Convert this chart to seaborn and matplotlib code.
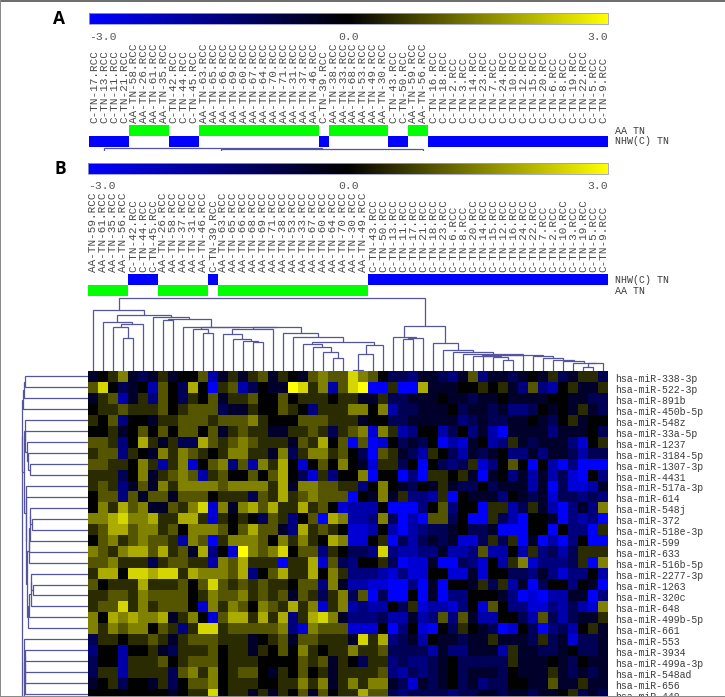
import numpy as np
import pandas as pd
import seaborn as sns
import matplotlib
matplotlib.use("Agg")
import matplotlib.pyplot as plt
from matplotlib.cm import ScalarMappable
from matplotlib.colors import LinearSegmentedColormap, ListedColormap, Normalize
from matplotlib.patches import Rectangle
from matplotlib.transforms import ScaledTranslation

W, H = 725, 697
MONO = "Liberation Mono"
LINE = "#55559f"

samples_a = ["C-TN-17", "C-TN-13", "C-TN-11", "C-TN-21", "AA-TN-58", "AA-TN-26", "AA-TN-61", "AA-TN-35",
             "C-TN-42", "C-TN-44", "C-TN-45", "AA-TN-63", "AA-TN-65", "AA-TN-66", "AA-TN-69", "AA-TN-60",
             "AA-TN-67", "AA-TN-64", "AA-TN-70", "AA-TN-71", "AA-TN-31", "AA-TN-37", "AA-TN-46", "C-TN-39",
             "AA-TN-38", "AA-TN-33", "AA-TN-68", "AA-TN-53", "AA-TN-49", "AA-TN-30", "C-TN-43", "C-TN-50",
             "AA-TN-59", "AA-TN-56", "C-TN-16", "C-TN-18", "C-TN-2", "C-TN-3", "C-TN-14", "C-TN-23",
             "C-TN-7", "C-TN-24", "C-TN-10", "C-TN-12", "C-TN-15", "C-TN-20", "C-TN-6", "C-TN-8",
             "C-TN-19", "C-TN-22", "C-TN-5", "C-TN-9"]

samples_b = ["AA-TN-59", "AA-TN-61", "AA-TN-35", "AA-TN-56", "C-TN-42", "C-TN-44", "C-TN-45", "AA-TN-26",
             "AA-TN-58", "AA-TN-37", "AA-TN-31", "AA-TN-46", "C-TN-39", "AA-TN-63", "AA-TN-65", "AA-TN-66",
             "AA-TN-68", "AA-TN-69", "AA-TN-71", "AA-TN-38", "AA-TN-53", "AA-TN-33", "AA-TN-67", "AA-TN-60",
             "AA-TN-64", "AA-TN-70", "AA-TN-30", "AA-TN-49", "C-TN-43", "C-TN-50", "C-TN-13", "C-TN-11",
             "C-TN-17", "C-TN-21", "C-TN-18", "C-TN-23", "C-TN-6", "C-TN-8", "C-TN-20", "C-TN-14",
             "C-TN-15", "C-TN-12", "C-TN-16", "C-TN-24", "C-TN-22", "C-TN-7", "C-TN-2", "C-TN-10",
             "C-TN-3", "C-TN-19", "C-TN-5", "C-TN-9"]

genes = ["338-3p", "522-3p", "891b", "450b-5p", "548z", "33a-5p", "1237", "3184-5p", "1307-3p", "4431",
         "517a-3p", "614", "548j", "372", "518e-3p", "599", "633", "516b-5p", "2277-3p", "1263",
         "320c", "648", "499b-5p", "661", "553", "3934", "499a-3p", "548ad", "656", "448"]

# expression in half log units
heat_rows = [
    [-1,0,1,3,-1,-2,-1,1,-1,0,0,2,-4,-1,1,-1,1,2,-1,1,0,-1,2,3,2, 2,5,3,2,0,-2,-2,-3,-1,-1,-2,-3,-1,2,-3,-1,-1,-2,-1,0,-1,1,-2,-1,1,1,-2],
    [2,5,0,-2,-1,0,-4,2,0,-2,4,0,-6,1,2,-4,-2,0,-1,-1,6,5,1,3,-4, 2,5,6,-6,-6,1,-6,-6,4,-1,-1,-1,0,0,1,0,1,-1,-3,2,-3,-4,0,1,-1,-1,1],
    [-1,1,2,-4,-1,1,-3,2,0,-2,1,0,2,-1,1,1,2,0,0,2,0,1,1,1,0, 1,1,-1,-1,1,-2,-2,-1,-1,-1,0,-1,-1,-2,-1,-1,0,-1,-1,-1,-1,0,0,-1,-1,-2,-2],
    [0,1,1,2,1,1,1,2,0,1,2,2,2,-2,-1,-1,1,0,0,2,1,0,-3,1,1, 1,3,3,0,3,-4,-2,-2,-1,-1,-1,0,-2,-1,-1,-2,-1,-3,-3,-2,0,-1,0,-1,1,-1,-2],
    [1,0,2,-3,0,0,-1,1,1,2,2,2,1,2,2,2,3,1,0,0,0,2,2,2,1, 1,1,-1,0,0,-2,-2,-1,-1,-1,-1,-1,-3,-2,-1,-2,-2,-1,-1,0,-1,-2,0,1,-1,0,0],
    [0,0,1,-1,0,2,0,2,0,2,2,0,2,-1,1,2,1,1,-1,-1,1,1,2,1,-2, 1,2,3,-5,3,1,-4,-3,0,0,-4,-2,0,-3,-1,-4,-6,-1,-1,-1,-1,-3,-1,-1,-1,0,-2],
    [2,2,1,-3,0,4,1,-1,1,-2,-2,4,2,1,2,3,2,1,1,1,-1,2,1,4,0, 2,-6,2,-6,-5,0,-2,-1,-2,0,-6,-4,-5,-1,0,-4,-3,1,-1,-2,-1,-1,-1,-3,-5,0,1],
    [1,2,2,-3,1,0,-1,3,1,3,2,1,0,1,3,3,1,1,-1,3,-2,1,3,3,1, 2,0,-2,-6,2,1,-1,-2,-4,1,0,-2,-4,-1,-2,-1,0,-3,-3,-1,-3,-1,-1,-2,-4,-2,-2],
    [2,2,1,1,0,3,1,-4,1,3,-5,0,2,3,-3,2,-4,3,1,4,0,-5,0,2,0, 3,0,-1,-5,1,1,-2,0,-6,0,-2,-3,-2,1,-5,-3,0,2,0,-6,0,-4,-6,-3,-6,-6,-6],
    [1,1,1,-2,0,3,-1,1,2,3,2,-4,1,2,0,0,2,0,2,4,0,-2,-5,1,-3, 0,0,3,-6,0,0,-6,-3,-6,1,1,0,1,-1,-6,-1,0,-3,-1,-4,-1,-4,-2,-5,-6,0,-3],
    [1,2,1,-3,-1,2,-1,3,1,3,3,3,3,2,3,3,3,3,1,4,-1,3,3,2,2, 1,1,-3,0,3,0,-1,-2,0,-1,1,-1,-2,-2,0,-2,-1,-1,-1,-4,-1,-6,-2,-5,-5,-4,-1],
    [0,2,2,-3,2,-1,2,2,-1,2,2,2,0,1,1,1,-2,2,1,4,1,2,3,2,2, 2,-6,0,-1,3,-1,1,-3,-3,-4,1,-6,0,-1,-1,-1,-3,0,-1,-2,-1,-5,-2,-2,-3,-2,-3],
    [0,3,1,4,2,3,-1,-1,2,1,3,5,-5,3,-1,3,4,2,4,1,1,4,1,2,0, -5,-4,-4,-4,0,-6,-6,-6,-3,0,2,-3,0,0,-6,1,1,-4,-2,1,-1,-4,-6,-3,-1,-3,3],
    [3,3,4,5,3,3,4,1,1,4,4,1,-5,1,0,1,0,-2,2,1,-3,0,2,-6,4, 3,-4,-4,-3,3,-2,-6,-4,-6,2,2,-2,0,-6,-6,1,-2,-4,-6,0,0,-1,-6,-3,-4,-3,-6],
    [1,2,4,4,2,3,3,1,2,0,3,3,3,2,0,2,4,2,2,-1,-3,4,1,2,1, 0,-5,-5,-4,0,-4,-6,-4,-3,-2,-2,-1,0,-2,-2,-1,-6,-6,-6,0,0,-6,0,-3,-3,-6,1],
    [0,2,3,1,2,3,2,2,1,-4,3,2,-6,1,3,3,3,2,0,3,1,3,1,0,4, 3,-5,-5,0,1,-6,-2,-4,-2,-1,-2,-1,-5,-5,-2,1,-2,1,-6,-1,-6,-4,-6,-3,0,-6,-6],
    [3,2,1,3,4,4,2,4,1,2,-1,4,-3,0,-5,6,3,2,3,5,0,2,2,-3,1, 0,-2,-2,-3,5,-3,-4,-4,-3,-3,-1,-4,-4,-3,2,-4,-4,0,-4,1,-3,-2,-4,-2,1,1,1],
    [2,2,3,1,1,1,-2,1,2,2,1,1,-4,3,2,4,1,1,1,-6,1,1,4,-5,2, -2,-3,0,0,1,-2,-6,-5,-5,-1,-6,-6,-2,-3,-5,0,-4,1,3,-5,-3,-3,-3,-2,1,-6,3],
    [1,4,4,0,5,5,4,5,5,1,4,3,3,3,2,4,-3,0,2,4,1,1,4,0,3, 1,-3,-3,-3,-4,-5,-3,-5,-5,0,0,-5,-5,-1,-5,0,0,-2,-2,-3,-1,-3,-5,-3,-3,0,-4],
    [2,0,1,1,1,4,1,1,1,2,0,2,5,2,1,2,1,2,1,1,0,2,2,-3,3, -1,-4,-4,-5,-5,-6,-6,-3,-6,-1,-6,0,0,-1,1,-2,1,-4,-1,-6,-2,0,0,-3,0,-1,-6],
    [1,1,2,2,1,3,2,2,2,2,0,1,3,2,2,3,1,2,1,2,-1,2,1,-2,1, 3,-2,2,-6,-2,-6,-6,0,-6,-1,-6,-3,-3,0,0,0,-1,-3,-6,-5,-6,-4,-4,-1,-1,-6,-3],
    [1,2,2,5,1,3,1,2,2,2,0,-5,3,1,3,2,0,3,2,1,4,1,3,-5,1, 3,-4,-3,-4,-4,0,-2,1,-5,-4,-4,-5,-3,0,-5,2,0,-3,-3,-5,-5,-3,-4,-2,-4,-5,3],
    [3,0,4,3,4,3,3,4,-1,1,3,0,-5,2,4,4,1,4,1,4,-3,1,4,5,3, -1,-3,-3,-3,-2,-4,-4,-1,-4,-3,2,-3,2,-1,-4,-4,0,0,-2,-4,2,-2,-4,-2,-1,-1,1],
    [3,1,3,2,3,3,0,2,1,-3,1,5,5,1,2,2,2,2,2,3,-3,-5,3,2,2, 2,-5,-5,-5,0,-6,-3,0,-5,-6,0,-2,1,0,-1,-2,-6,-5,0,-2,-6,-3,-2,-4,0,1,-1],
    [-2,1,1,0,1,1,2,1,-1,1,2,2,2,1,1,1,-1,0,1,2,-1,2,2,1,1, 1,-1,5,1,4,-3,-2,-1,-4,0,-1,-1,-2,-1,-1,1,-1,-1,-1,-2,1,-2,-1,-5,-2,-2,-1],
    [-3,0,0,-4,0,0,1,-1,-2,1,1,1,2,0,1,1,-1,1,0,2,0,3,1,0,1, 1,3,1,1,2,-2,-2,-2,-2,-4,-1,-3,-3,-1,-1,-1,-4,1,-1,-1,-2,-2,-1,0,-2,-2,-1],
    [-2,0,0,-4,1,1,1,2,0,1,2,2,2,0,1,1,1,0,0,0,0,2,1,2,-1, 1,0,-2,1,1,-3,-2,-3,-3,-2,-1,0,-2,-2,-2,-2,-2,1,-1,-1,-1,0,-1,-2,0,-1,-1],
    [-2,1,1,-4,1,1,1,1,-2,2,3,1,3,0,1,2,2,0,-1,1,0,2,0,1,-1, 1,1,1,1,2,-3,-4,-2,-3,-2,-1,0,-2,-1,-1,-1,-2,0,-1,-1,-1,1,-1,-2,-1,-2,-1],
    [-1,0,1,-2,0,0,-1,1,-2,0,2,2,3,0,1,1,1,0,0,1,1,3,1,3,-1, 1,3,1,3,3,-1,-2,-5,-1,-2,-1,0,-2,-1,-3,-2,-2,0,0,-1,-1,2,-1,-1,1,-1,-1],
    [0,0,0,0,0,0,0,0,-1,0,1,1,5,0,1,1,-1,1,-1,1,0,2,-1,2,0, 1,1,4,2,2,-2,-3,-2,-2,-2,-2,-3,-2,-2,-1,-1,-2,-1,-1,-2,-1,-1,0,1,-2,-1,-2],
]

# trees as (height, left, right), leaves are column / row numbers
cols_tail = (38, 19, (34.3, 20, (28.7, (27, 21, (23.7, 22, (19, 23, (13.3, 24, 25)))),
                                 (25.7, (16.7, (1.3, 26, 27), 28), 29))))
cols_mid = (43.6, (41.7, (36.7, 13, (31.7, 14, (30.3, 15, (29.3, 16, 17)))), 18), cols_tail)
cols_left = (61.3, 0, (56, (49.3, 1, (46.7, (43.7, 2, (32.7, 3, 4)), 5)),
                       (54, 6, (51.7, (50.7, 7, 8),
                                (43.7, 9, (43.6, (41.7, 10, (37.7, 11, 12)), cols_mid))))))
cols_last = (14.7, 44, (12.7, 45, (11.3, 46, (10.3, 47, (8.3, 48, (7.7, (3.7, 49, 50), 51))))))
cols_run = (16, (15.7, (15.3, 38, (15, 39, (14, 40, (10.7, 41, 42)))), 43), cols_last)
cols_right = (44.7, (34.3, 30, (32.7, (31.7, 31, 32), 33)),
              (27.7, 34, (21, 35, (19, 36, (16.7, 37, cols_run)))))
col_tree = (73.3, cols_left, cols_right)

rows_top = (65.3, (64.3, (63.3, 0, 1), 2), 3)
rows_a = (63.3, 4, (63, 5, (61.3, 6, (60, 7, (58.3, 8, 9)))))
rows_b = (59, (58.7, (58.3, (57.7, 12, (56, 13, 14)), 15), 16), 17)
rows_c = (59.7, (59, (57.3, (56.7, 18, (55.3, 19, 20)), 21), 22), 23)
rows_main = (64, rows_a, (62, 10, (61.7, 11, (60.7, rows_b, rows_c))))
rows_low = (63.7, 24, (63, (62.9, (62.8, (62.7, 25, 26), 27), 28), 29))
row_tree = (66.3, (65.8, rows_top, rows_main), (64, rows_low, 70))

# the cut-off tree under panel A
cut_tree = (3, 1, (2, 12.7, 33))


def px_axes(fig, x0, y0, x1, y1):
    return fig.add_axes([x0 / W, 1 - y1 / H, (x1 - x0) / W, (y1 - y0) / H])


def px_text(fig, x, y, s, **kw):
    fig.text(x / W, 1 - y / H, s, va="center", **kw)


def px_band(fig, x0, y0, x1, y1, color):
    fig.add_artist(Rectangle((x0 / W, 1 - y1 / H), (x1 - x0) / W, (y1 - y0) / H, color=color,
                             transform=fig.transFigure, lw=0, zorder=20))


def draw_tree(ax, node, sideways=False):
    if not isinstance(node, tuple):
        return node + 0.5, 0
    height, left, right = node
    p1, h1 = draw_tree(ax, left, sideways)
    p2, h2 = draw_tree(ax, right, sideways)
    xs = [p1, p1, p2, p2]
    ys = [h1, height, height, h2]
    if sideways:
        ax.plot(ys, xs, color=LINE, lw=0.9, solid_joinstyle="miter")
    else:
        ax.plot(xs, ys, color=LINE, lw=0.9, solid_joinstyle="miter")
    return (p1 + p2) / 2, height


def draw_scale(fig, cmap, x0, y0, x1, y1, label_y):
    cax = px_axes(fig, x0, y0, x1, y1)
    cbar = fig.colorbar(ScalarMappable(Normalize(-3, 3), cmap), cax=cax, orientation="horizontal")
    cbar.set_ticks([])
    cbar.outline.set_edgecolor("#9a9ad0")
    cbar.outline.set_linewidth(0.6)
    px_text(fig, x0, label_y, "-3.0", ha="left", family=MONO, fontsize=8.2, color="#555555")
    px_text(fig, 349, label_y, "0.0", ha="center", family=MONO, fontsize=8.2, color="#555555")
    px_text(fig, x1, label_y, "3.0", ha="right", family=MONO, fontsize=8.2, color="#555555")


def draw_strip(fig, names, order, x0, y0, x1, y1):
    aa = [1 if n.startswith("AA") else 0 for n in names]
    nhw = [2 if n.startswith("C") else 0 for n in names]
    strip = np.array([aa, nhw] if order == "aa" else [nhw, aa])
    ax = px_axes(fig, x0, y0, x1, y1)
    sns.heatmap(strip, cmap=ListedColormap(["white", "#00ff00", "#0000ff"]), vmin=0, vmax=2,
                cbar=False, yticklabels=False, xticklabels=[n + ".RCC" for n in names], ax=ax)
    ax.xaxis.tick_top()
    ax.tick_params(axis="x", length=0, pad=1.4)
    for t in ax.get_xticklabels():
        t.set(rotation=90, family=MONO, fontsize=7.9, color="#4a4a4a", ha="center", va="bottom")


sns.set_theme(style="white")
plt.rcParams["font.family"] = [MONO, "DejaVu Sans"]

fig = plt.figure(figsize=(W / 100, H / 100), dpi=100, facecolor="white")
blue_yellow = LinearSegmentedColormap.from_list("by", ["#0000ff", "#000000", "#ffff00"])

# ---- panel A ----
draw_scale(fig, blue_yellow, 89, 13.3, 608, 24.3, 36.7)
draw_strip(fig, samples_a, "aa", 89, 125, 608, 146.7)
px_text(fig, 615, 130.5, "AA TN", ha="left", family=MONO, fontsize=7.2, color="#3c3c3c")
px_text(fig, 615, 141.5, "NHW(C) TN", ha="left", family=MONO, fontsize=7.2, color="#3c3c3c")
cut_ax = px_axes(fig, 89, 147, 608, 151)
draw_tree(cut_ax, cut_tree)
cut_ax.set_xlim(0, 52)
cut_ax.set_ylim(0, 4)
cut_ax.axis("off")

# ---- panel B ----
draw_scale(fig, blue_yellow, 88, 162.7, 608, 173.7, 185.7)
draw_strip(fig, samples_b, "nhw", 88, 274.3, 608, 296)
px_text(fig, 615, 280, "NHW(C) TN", ha="left", family=MONO, fontsize=7.2, color="#3c3c3c")
px_text(fig, 615, 291, "AA TN", ha="left", family=MONO, fontsize=7.2, color="#3c3c3c")

top_ax = px_axes(fig, 88, 295, 608, 371)
draw_tree(top_ax, col_tree)
top_ax.set_xlim(0, 52)
top_ax.set_ylim(0, 76)
top_ax.axis("off")

heat_ax = px_axes(fig, 88, 371, 608, 699.5)
heat = pd.DataFrame(np.array(heat_rows) / 2.0, index=["hsa-miR-" + g for g in genes])
sns.heatmap(heat, cmap=blue_yellow, vmin=-3, vmax=3, cbar=False, xticklabels=False, yticklabels=True, ax=heat_ax)
heat_ax.yaxis.tick_right()
heat_ax.tick_params(axis="y", length=0, pad=5)
nudge = ScaledTranslation(0, -1.5 / 100, fig.dpi_scale_trans)
for t in heat_ax.get_yticklabels():
    t.set(rotation=0, family=MONO, fontsize=7.1, color="#3c3c3c")
    t.set_transform(t.get_transform() + nudge)

left_ax = px_axes(fig, 15, 371, 88, 699.5)
draw_tree(left_ax, row_tree, sideways=True)
left_ax.set_xlim(73, 0)
left_ax.set_ylim(30, 0)
left_ax.axis("off")

px_text(fig, 52.5, 19, "A", ha="left", family="Open Sans", fontsize=12.5, fontweight="bold", color="black")
px_text(fig, 54.5, 169, "B", ha="left", family="Open Sans", fontsize=12.5, fontweight="bold", color="black")

# frame left over from the screenshot
px_band(fig, 0, 0, W, 2, "#6e6e6e")
px_band(fig, 0, 0, 1.3, H, "#8a8a8a")
px_band(fig, 0, 695.5, W, H, "#8a8a8a")

fig.savefig("out.png", dpi=100)
